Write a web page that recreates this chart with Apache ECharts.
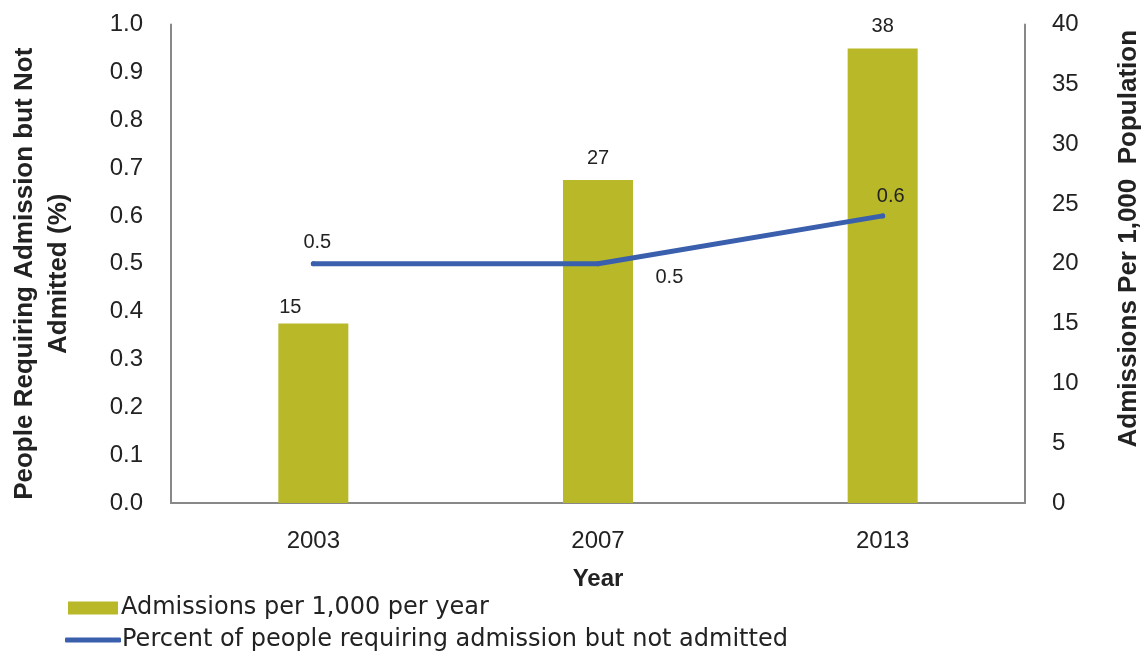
<!DOCTYPE html>
<html><head><meta charset="utf-8">
<script src="https://cdn.jsdelivr.net/npm/echarts@6/dist/echarts.min.js"></script>
<style>html,body{margin:0;padding:0;background:#fff}#c{width:1146px;height:653px}</style>
</head><body><div id="c"></div>
<script>
var years = ['2003', '2007', '2013'];
var admissions = [15, 27, 38];
var percentNotAdmitted = [0.5, 0.5, 0.6];
var leftTicks = [0, 0.1, 0.2, 0.3, 0.4, 0.5, 0.6, 0.7, 0.8, 0.9, 1.0];
var rightTicks = [0, 5, 10, 15, 20, 25, 30, 35, 40];
var barName = 'Admissions per 1,000 per year';
var lineName = 'Percent of people requiring admission but not admitted';

var FONT = 'Liberation Sans';
var LFONT = 'DejaVu Sans';
var TXT = '#222';
var barLabelOffsets = [[-23, 6], [0, 0], [0, 0]];
var lineLabelCfg = [
  {position: 'top', distance: 9, offset: [4, 0]},
  {position: 'right', distance: 0, offset: [55, 14]},
  {position: 'top', distance: 7, offset: [8, 0]}
];

var chart = echarts.init(document.getElementById('c'), null, {renderer: 'canvas'});
chart.setOption({
  animation: false,
  textStyle: {fontFamily: FONT, color: TXT},
  grid: {left: 171, right: 121, top: 24.5, bottom: 150, containLabel: false, outerBoundsMode: 'none'},
  legend: [
    {
      left: 68, top: 596, itemWidth: 50, itemHeight: 13, padding: 0,
      textStyle: {fontFamily: LFONT, fontSize: 24, color: TXT, padding: [0, 0, 0, -2]},
      data: [{name: barName, icon: 'rect'}]
    },
    {
      left: 65, top: 628, itemWidth: 56, itemHeight: 5, padding: 0,
      textStyle: {fontFamily: LFONT, fontSize: 24, color: TXT, padding: [0, 0, 0, -4]},
      data: [{name: lineName, icon: 'roundRect'}]
    }
  ],
  xAxis: {
    type: 'category', data: years,
    name: 'Year', nameLocation: 'middle', nameGap: 64,
    nameTextStyle: {fontFamily: FONT, fontSize: 24, fontWeight: 'bold', color: TXT},
    axisLine: {lineStyle: {color: '#888', width: 2}},
    axisTick: {show: false},
    axisLabel: {fontSize: 24, color: TXT, margin: 26}
  },
  yAxis: [
    {
      type: 'value', min: 0, max: 1, interval: 0.1, position: 'left',
      name: 'People Requiring Admission but Not\nAdmitted (%)', nameLocation: 'middle', nameRotate: 90, nameGap: 95,
      nameTextStyle: {fontFamily: FONT, fontSize: 26, fontWeight: 'bold', color: TXT, lineHeight: 34, padding: [0, 20, 0, 0]},
      axisLine: {show: true, lineStyle: {color: '#888', width: 2}},
      axisTick: {show: false}, splitLine: {show: false},
      axisLabel: {fontSize: 24, color: TXT, margin: 28, formatter: function (v) { return v.toFixed(1); }}
    },
    {
      type: 'value', min: 0, max: 40, interval: 5, position: 'right',
      name: 'Admissions Per 1,000  Population', nameLocation: 'middle', nameRotate: 90, nameGap: 91,
      nameTextStyle: {fontFamily: FONT, fontSize: 26, fontWeight: 'bold', color: TXT, padding: [0, 0, 0, 50]},
      axisLine: {show: true, lineStyle: {color: '#888', width: 2}},
      axisTick: {show: false}, splitLine: {show: false},
      axisLabel: {fontSize: 24, color: TXT, margin: 27}
    }
  ],
  series: [
    {
      name: barName, type: 'bar', yAxisIndex: 1, barWidth: 70,
      itemStyle: {color: '#B8B829'},
      data: admissions.map(function (v, i) {
        return {value: v, label: {offset: barLabelOffsets[i]}};
      }),
      label: {show: true, position: 'top', distance: 12, fontSize: 20, color: TXT, fontFamily: FONT}
    },
    {
      name: lineName, type: 'line', yAxisIndex: 0,
      symbol: 'circle', symbolSize: 5, showSymbol: true,
      lineStyle: {color: '#3A5FAD', width: 5, cap: 'round'},
      itemStyle: {color: '#3A5FAD'},
      data: percentNotAdmitted.map(function (v, i) {
        var l = {show: true};
        for (var k in lineLabelCfg[i]) l[k] = lineLabelCfg[i][k];
        return {value: v, label: l};
      }),
      label: {show: true, fontSize: 20, color: TXT, fontFamily: FONT, formatter: function (p) { return p.value.toFixed(1); }}
    }
  ]
});
</script></body></html>
